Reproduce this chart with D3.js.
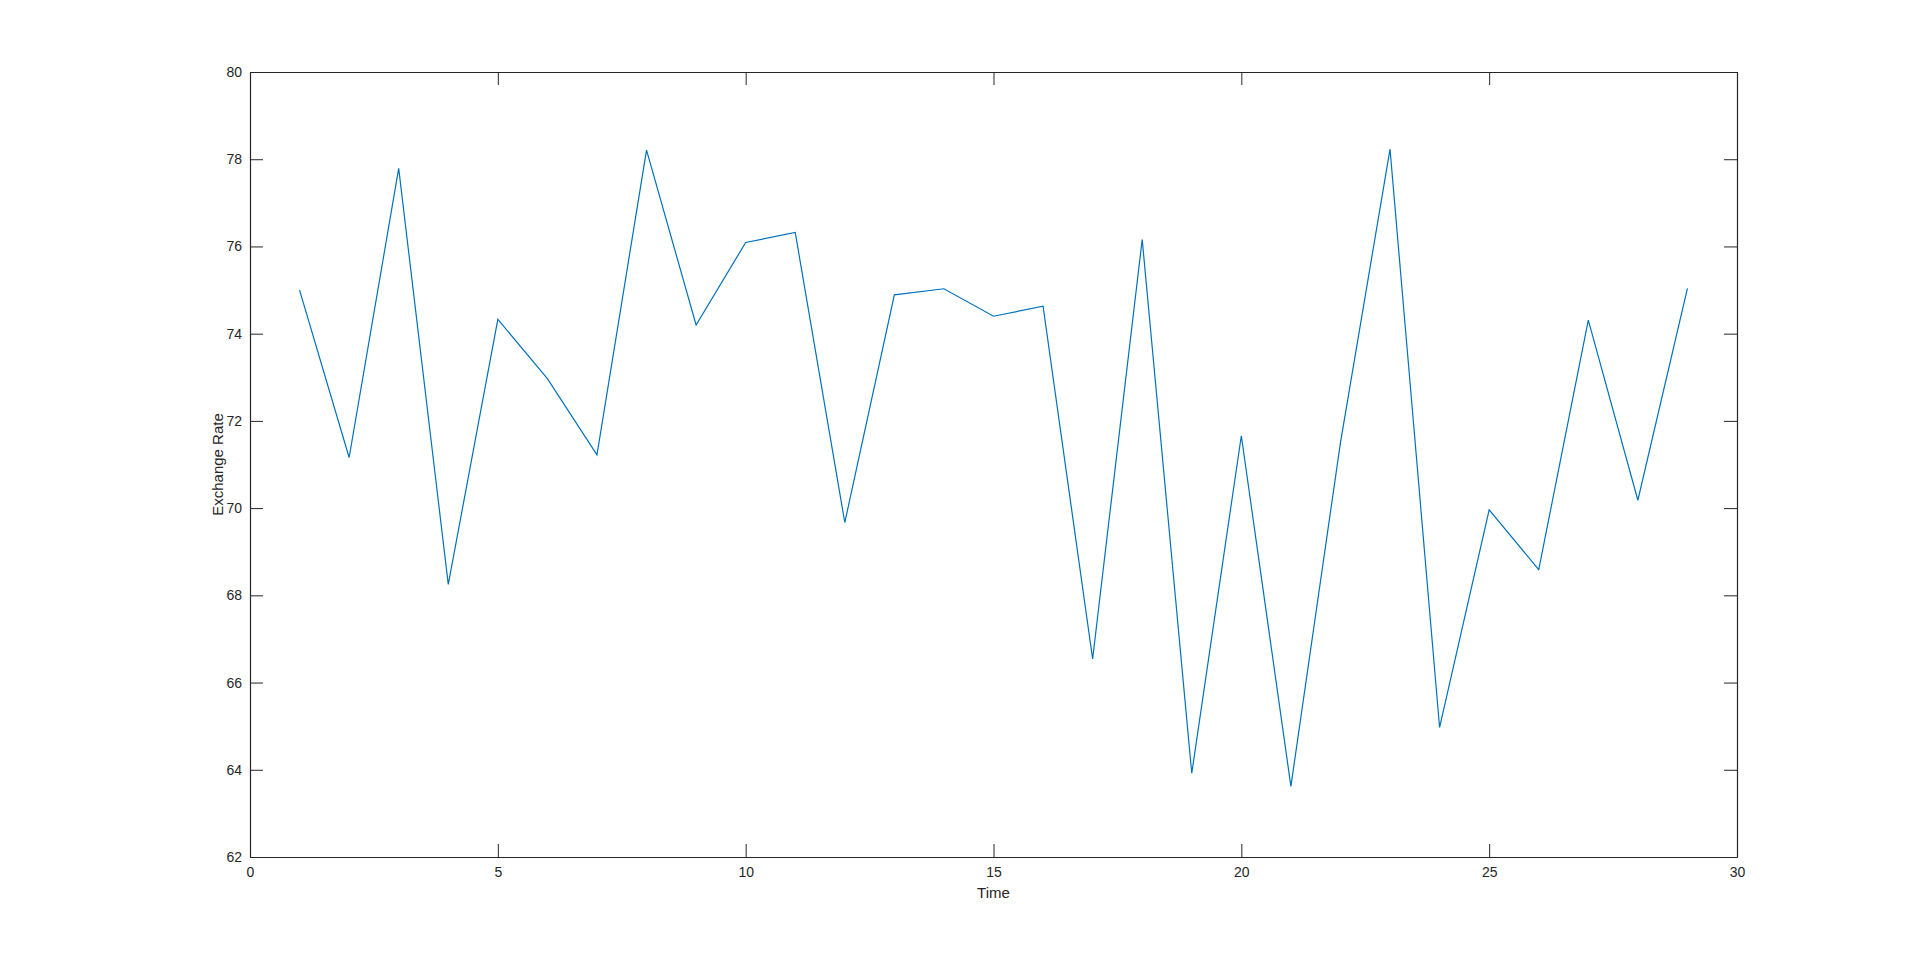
<!DOCTYPE html>
<html>
<head>
<meta charset="utf-8">
<script src="https://cdn.jsdelivr.net/npm/d3@7"></script>
<style>
  html, body { margin: 0; padding: 0; background: #fff; }
  svg { display: block; font-family: "Liberation Sans", Arial, sans-serif; }
</style>
</head>
<body>
<svg id="chart" width="1920" height="964"></svg>
<script>
// data
const time = [1, 2, 3, 4, 5, 6, 7, 8, 9, 10, 11, 12, 13, 14, 15, 16, 17, 18, 19, 20, 21, 22, 23, 24, 25, 26, 27, 28, 29];
const rate = [75.0, 71.16, 77.79, 68.25, 74.33, 72.97, 71.22, 78.21, 74.2, 76.09,
              76.32, 69.67, 74.89, 75.03, 74.4, 74.63, 66.54, 76.16, 63.92, 71.66,
              63.62, 71.5, 78.23, 64.97, 69.96, 68.59, 74.31, 70.18, 75.04];
const xTicks = [0, 5, 10, 15, 20, 25, 30];
const yTicks = [62, 64, 66, 68, 70, 72, 74, 76, 78, 80];

const margin = { left: 250, right: 183, top: 72, bottom: 107 };
const width = 1920, height = 964;
const axisColor = '#262626';
const tickLen = 13;

const svg = d3.select('#chart');

const x = d3.scaleLinear().domain([0, 30]).range([margin.left, width - margin.right]);
const y = d3.scaleLinear().domain([62, 80]).range([height - margin.bottom, margin.top]);

// line
const line = d3.line().x((d, i) => x(time[i])).y(d => y(d));
svg.append('path')
    .datum(rate)
    .attr('fill', 'none')
    .attr('stroke', '#0072BD')
    .attr('stroke-width', 1.2)
    .attr('d', line);

// axes, ticks pointing inward on all four sides
const styleAxis = g => {
    g.selectAll('path').attr('stroke', axisColor).attr('stroke-width', 1.2);
    g.selectAll('line').attr('stroke', axisColor).attr('stroke-width', 1);
    g.selectAll('text').attr('fill', axisColor).style('font-size', '14px');
};

svg.append('g')
    .attr('transform', `translate(0,${y(62)})`)
    .call(d3.axisBottom(x).tickValues(xTicks).tickSizeInner(-tickLen).tickSizeOuter(0).tickPadding(10))
    .call(styleAxis);

svg.append('g')
    .attr('transform', `translate(0,${y(80)})`)
    .call(d3.axisTop(x).tickValues(xTicks).tickSizeInner(-tickLen).tickSizeOuter(0).tickFormat(''))
    .call(styleAxis);

svg.append('g')
    .attr('transform', `translate(${x(0)},0)`)
    .call(d3.axisLeft(y).tickValues(yTicks).tickSizeInner(-tickLen).tickSizeOuter(0).tickPadding(8))
    .call(styleAxis);

svg.append('g')
    .attr('transform', `translate(${x(30)},0)`)
    .call(d3.axisRight(y).tickValues(yTicks).tickSizeInner(-tickLen).tickSizeOuter(0).tickFormat(''))
    .call(styleAxis);

// axis labels
svg.append('text')
    .attr('x', x(15))
    .attr('y', 898)
    .attr('text-anchor', 'middle')
    .attr('fill', axisColor)
    .style('font-size', '15px')
    .text('Time');

svg.append('text')
    .attr('transform', `translate(223,${y(71)}) rotate(-90)`)
    .attr('text-anchor', 'middle')
    .attr('fill', axisColor)
    .style('font-size', '15px')
    .text('Exchange Rate');
</script>
</body>
</html>
